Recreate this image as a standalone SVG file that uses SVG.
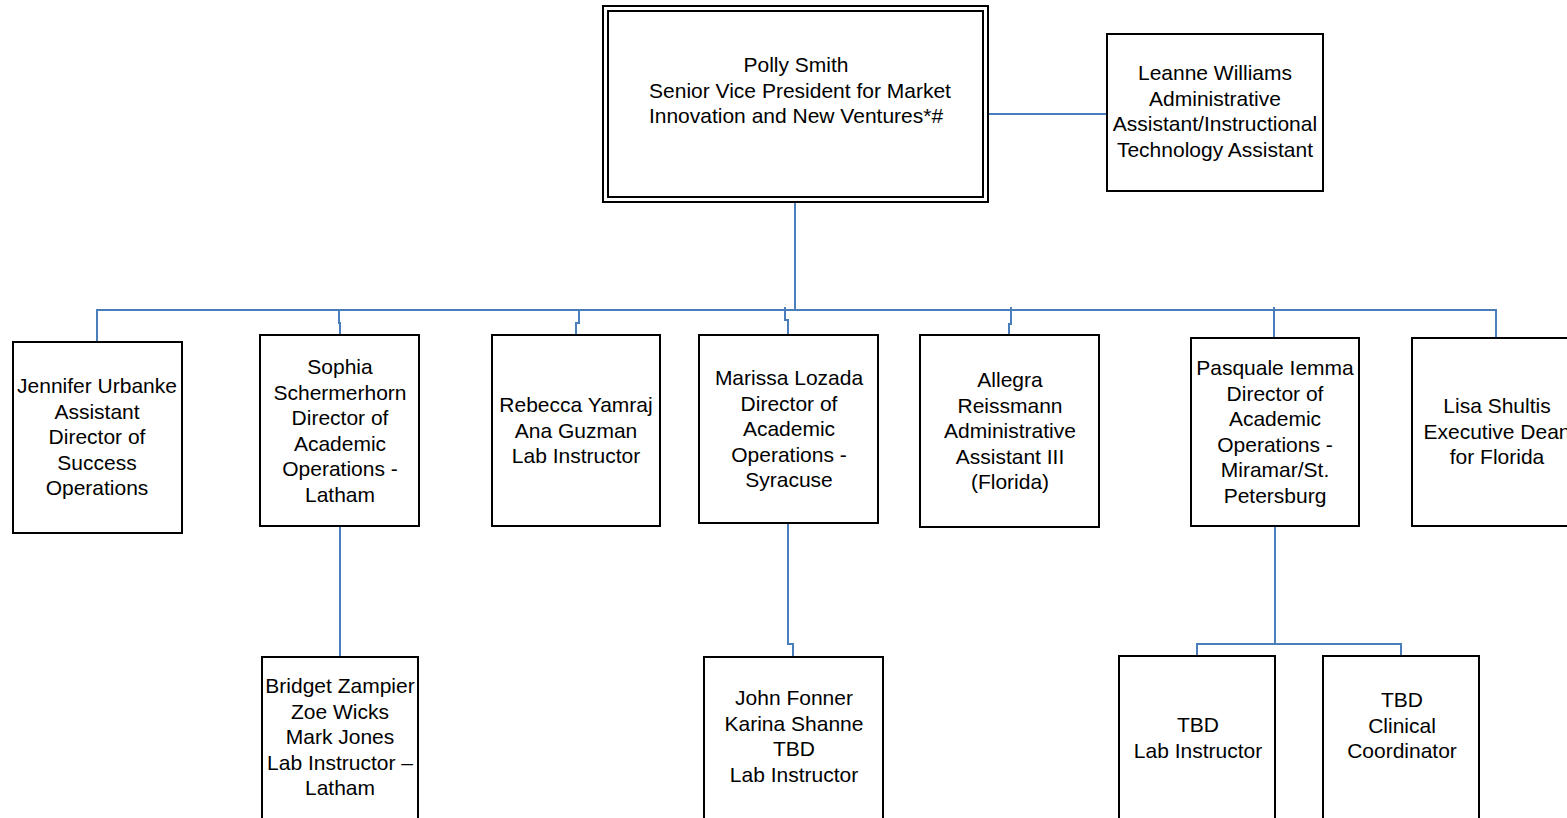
<svg xmlns="http://www.w3.org/2000/svg" width="1567" height="818" viewBox="0 0 1567 818">
<style>
.box{fill:#fff;stroke:#000;stroke-width:2}
.ln{fill:none;stroke:#4a7ebb;stroke-width:2}
text{font-family:"Liberation Sans",Arial,sans-serif;font-size:21px;fill:#000;text-anchor:middle}
</style>
<rect width="1567" height="818" fill="#fff"/>
<g id="connectors">
<path class="ln" d="M795,202 V310"/>
<path class="ln" d="M97,342 V310 H1496 V338"/>
<path class="ln" d="M339,310 V323 H340 V335"/>
<path class="ln" d="M579,310 V323 H576 V335"/>
<path class="ln" d="M785,307 V320 H788 V335"/>
<path class="ln" d="M1011,307 V324 H1009 V335"/>
<path class="ln" d="M1274,307 V338"/>
<path class="ln" d="M988,114 H1107"/>
<path class="ln" d="M340,526 V657"/>
<path class="ln" d="M788,523 V644 H793 V657"/>
<path class="ln" d="M1275,526 V644"/>
<path class="ln" d="M1197,656 V644 H1401 V656"/>
</g>
<g id="polly">
<rect class="box" x="603" y="6" width="385" height="196"/>
<rect class="box" x="608" y="11" width="375" height="186"/>
<text x="796" y="72">Polly Smith<tspan x="800" dy="25.6">Senior Vice President for Market</tspan><tspan x="796" dy="25.6">Innovation and New Ventures*#</tspan></text>
</g>
<g id="leanne">
<rect class="box" x="1107" y="34" width="216" height="157"/>
<text x="1215" y="80">Leanne Williams<tspan x="1215" dy="25.6">Administrative</tspan><tspan x="1215" dy="25.6">Assistant/Instructional</tspan><tspan x="1215" dy="25.6">Technology Assistant</tspan></text>
</g>
<g id="jennifer">
<rect class="box" x="13" y="342" width="169" height="191"/>
<text x="97" y="393">Jennifer Urbanke<tspan x="97" dy="25.6">Assistant</tspan><tspan x="97" dy="25.6">Director of</tspan><tspan x="97" dy="25.6">Success</tspan><tspan x="97" dy="25.6">Operations</tspan></text>
</g>
<g id="sophia">
<rect class="box" x="260" y="335" width="159" height="191"/>
<text x="340" y="374">Sophia<tspan x="340" dy="25.6">Schermerhorn</tspan><tspan x="340" dy="25.6">Director of</tspan><tspan x="340" dy="25.6">Academic</tspan><tspan x="340" dy="25.6">Operations -</tspan><tspan x="340" dy="25.6">Latham</tspan></text>
</g>
<g id="rebecca">
<rect class="box" x="492" y="335" width="168" height="191"/>
<text x="576" y="412">Rebecca Yamraj<tspan x="576" dy="25.6">Ana Guzman</tspan><tspan x="576" dy="25.6">Lab Instructor</tspan></text>
</g>
<g id="marissa">
<rect class="box" x="699" y="335" width="179" height="188"/>
<text x="789" y="385">Marissa Lozada<tspan x="789" dy="25.6">Director of</tspan><tspan x="789" dy="25.6">Academic</tspan><tspan x="789" dy="25.6">Operations -</tspan><tspan x="789" dy="25.6">Syracuse</tspan></text>
</g>
<g id="allegra">
<rect class="box" x="920" y="335" width="179" height="192"/>
<text x="1010" y="387">Allegra<tspan x="1010" dy="25.6">Reissmann</tspan><tspan x="1010" dy="25.6">Administrative</tspan><tspan x="1010" dy="25.6">Assistant III</tspan><tspan x="1010" dy="25.6">(Florida)</tspan></text>
</g>
<g id="pasquale">
<rect class="box" x="1191" y="338" width="168" height="188"/>
<text x="1275" y="375">Pasquale Iemma<tspan x="1275" dy="25.6">Director of</tspan><tspan x="1275" dy="25.6">Academic</tspan><tspan x="1275" dy="25.6">Operations -</tspan><tspan x="1275" dy="25.6">Miramar/St.</tspan><tspan x="1275" dy="25.6">Petersburg</tspan></text>
</g>
<g id="lisa">
<rect class="box" x="1412" y="338" width="172" height="188"/>
<text x="1497" y="413">Lisa Shultis<tspan x="1497" dy="25.6">Executive Dean</tspan><tspan x="1497" dy="25.6">for Florida</tspan></text>
</g>
<g id="bridget">
<rect class="box" x="262" y="657" width="156" height="175"/>
<text x="340" y="693">Bridget Zampier<tspan x="340" dy="25.6">Zoe Wicks</tspan><tspan x="340" dy="25.6">Mark Jones</tspan><tspan x="340" dy="25.6">Lab Instructor –</tspan><tspan x="340" dy="25.6">Latham</tspan></text>
</g>
<g id="john">
<rect class="box" x="704" y="657" width="179" height="175"/>
<text x="794" y="705">John Fonner<tspan x="794" dy="25.6">Karina Shanne</tspan><tspan x="794" dy="25.6">TBD</tspan><tspan x="794" dy="25.6">Lab Instructor</tspan></text>
</g>
<g id="tbd-lab">
<rect class="box" x="1119" y="656" width="156" height="176"/>
<text x="1198" y="732">TBD<tspan x="1198" dy="25.6">Lab Instructor</tspan></text>
</g>
<g id="tbd-clinical">
<rect class="box" x="1323" y="656" width="156" height="176"/>
<text x="1402" y="707">TBD<tspan x="1402" dy="25.6">Clinical</tspan><tspan x="1402" dy="25.6">Coordinator</tspan></text>
</g>
</svg>
